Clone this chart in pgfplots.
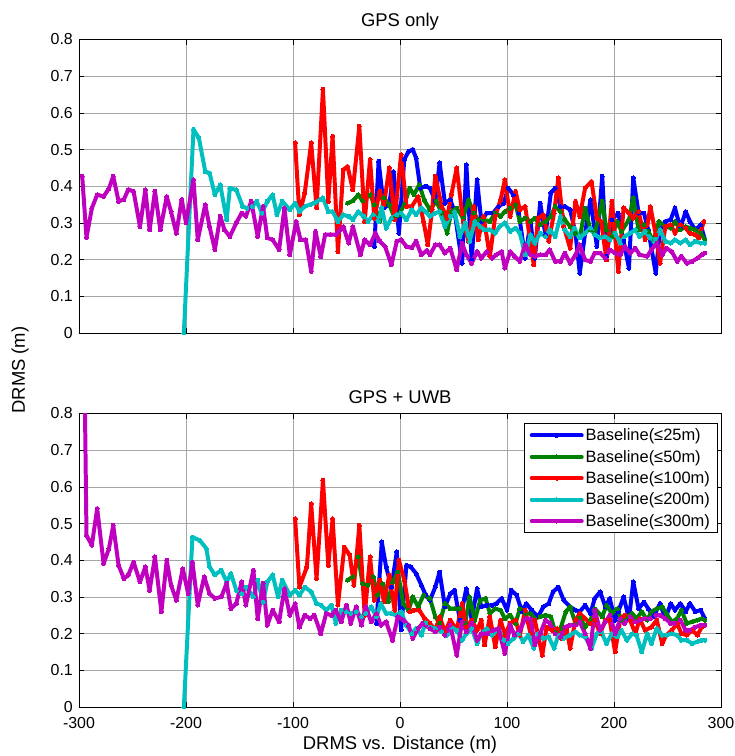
\documentclass[border=0pt]{standalone}
\usepackage{pgfplots}
\pgfplotsset{compat=1.18}
\usepackage{fontspec}
\setmainfont{Liberation Sans}
\definecolor{mblue}{rgb}{0,0,1}
\definecolor{mgreen}{rgb}{0,0.5,0}
\definecolor{mred}{rgb}{1,0,0}
\definecolor{mcyan}{rgb}{0,0.75,0.75}
\definecolor{mmag}{rgb}{0.75,0,0.75}
\pgfplotsset{
  mlab/.style={
    scale only axis, width=642bp, height=293.5bp,
    xmin=-300, xmax=300, ymin=0, ymax=0.8,
    xtick={-300,-200,-100,0,100,200,300},
    ytick={0,0.1,0.2,0.3,0.4,0.5,0.6,0.7,0.8},
    grid=major, major grid style={gray!70, line width=0.5pt},
    tick align=inside, major tick length=5bp,
    tick style={black, line width=0.6pt},
    axis line style={black, line width=0.8pt},
    tick label style={font=\fontsize{16}{19}\selectfont, inner sep=1bp},
    xticklabel style={yshift=-9.5bp},
    yticklabel style={xshift=-5bp},
    /pgf/number format/assume math mode=true,
    title style={font=\fontsize{18.5}{22}\selectfont},
    label style={font=\fontsize{18.5}{22}\selectfont},
    xlabel style={yshift=-3bp},
    anchor=south west,
  },
  ser/.style={color=#1, line width=4pt, line join=round, line cap=round, mark=*, mark size=2pt, mark options={solid, line width=0pt, fill=#1}},
}
\begin{document}
\begin{tikzpicture}
\useasboundingbox (-79bp,-423bp) rectangle (656bp,333bp);
\begin{axis}[mlab, at={(0,0)}, title={GPS only}, xticklabels={}]
\addplot[ser=mblue] coordinates {(-24,0.236) (-20,0.468) (-15,0.341) (-10,0.35) (-6,0.44) (-1,0.272) (4,0.473) (8,0.495) (12,0.5) (15,0.477) (19,0.395) (24,0.4) (28,0.395) (33,0.359) (37,0.464) (42,0.354) (47,0.363) (51,0.331) (58,0.19) (62,0.459) (67,0.199) (72,0.418) (76,0.304) (81,0.327) (87,0.327) (92,0.345) (97,0.354) (101,0.395) (106,0.377) (111,0.327) (117,0.204) (122,0.304) (126,0.204) (131,0.354) (136,0.268) (141,0.382) (145,0.395) (150,0.345) (154,0.345) (159,0.336) (164,0.272) (168,0.163) (173,0.272) (178,0.363) (184,0.236) (189,0.427) (193,0.209) (198,0.309) (204,0.327) (209,0.25) (214,0.177) (218,0.423) (223,0.327) (228,0.327) (232,0.281) (239,0.163) (243,0.281) (248,0.304) (253,0.309) (257,0.341) (262,0.286) (267,0.331) (271,0.304) (276,0.281) (281,0.295) (285,0.254)};
\addplot[ser=mgreen] coordinates {(-49,0.354) (-44,0.36) (-39,0.377) (-35,0.36) (-28,0.377) (-24,0.35) (-19,0.304) (-15,0.368) (-10,0.35) (-5,0.313) (-1,0.322) (4,0.35) (9,0.395) (13,0.377) (18,0.404) (23,0.36) (28,0.336) (34,0.359) (39,0.327) (44,0.272) (48,0.331) (53,0.34) (59,0.313) (64,0.363) (69,0.327) (73,0.309) (78,0.309) (84,0.304) (89,0.327) (94,0.318) (98,0.331) (103,0.34) (108,0.35) (112,0.304) (117,0.313) (122,0.304) (126,0.313) (131,0.295) (136,0.304) (141,0.318) (145,0.345) (150,0.331) (154,0.309) (159,0.29) (164,0.272) (168,0.259) (173,0.34) (178,0.281) (182,0.272) (189,0.359) (193,0.281) (198,0.263) (203,0.304) (207,0.277) (214,0.309) (218,0.368) (223,0.281) (228,0.295) (232,0.277) (237,0.25) (242,0.304) (248,0.29) (253,0.286) (257,0.304) (262,0.281) (267,0.29) (271,0.286) (276,0.281) (281,0.272) (285,0.254)};
\addplot[ser=mred] coordinates {(-98,0.518) (-94,0.322) (-89,0.382) (-83,0.518) (-78,0.341) (-72,0.664) (-67,0.359) (-63,0.536) (-58,0.222) (-53,0.445) (-49,0.454) (-44,0.39) (-38,0.564) (-33,0.304) (-28,0.473) (-24,0.313) (-19,0.386) (-15,0.35) (-10,0.45) (-5,0.309) (1,0.486) (6,0.345) (11,0.345) (17,0.372) (22,0.304) (26,0.24) (30,0.336) (33,0.427) (39,0.345) (44,0.313) (48,0.377) (53,0.45) (59,0.304) (64,0.25) (69,0.345) (73,0.254) (78,0.318) (84,0.209) (89,0.318) (94,0.363) (98,0.418) (103,0.318) (108,0.386) (112,0.336) (117,0.345) (125,0.186) (129,0.313) (134,0.322) (139,0.25) (144,0.327) (148,0.423) (153,0.29) (159,0.231) (164,0.359) (168,0.318) (173,0.395) (179,0.413) (184,0.313) (188,0.304) (193,0.199) (198,0.359) (204,0.168) (209,0.341) (214,0.327) (218,0.313) (223,0.331) (229,0.254) (234,0.345) (239,0.268) (243,0.19) (248,0.29) (253,0.295) (257,0.272) (262,0.295) (267,0.286) (271,0.272) (276,0.268) (279,0.259) (284,0.304)};
\addplot[ser=mcyan] coordinates {(-202,0) (-193,0.555) (-188,0.532) (-182,0.44) (-178,0.436) (-173,0.377) (-168,0.404) (-162,0.309) (-159,0.395) (-153,0.39) (-147,0.345) (-143,0.34) (-138,0.345) (-134,0.359) (-129,0.327) (-124,0.359) (-119,0.377) (-115,0.322) (-110,0.359) (-103,0.336) (-98,0.354) (-94,0.331) (-89,0.345) (-84,0.35) (-80,0.354) (-75,0.363) (-72,0.368) (-67,0.331) (-63,0.331) (-58,0.304) (-53,0.322) (-48,0.318) (-44,0.309) (-39,0.331) (-34,0.318) (-30,0.304) (-25,0.322) (-20,0.304) (-17,0.341) (-13,0.286) (-8,0.313) (-3,0.322) (1,0.327) (6,0.309) (11,0.336) (15,0.322) (20,0.341) (24,0.33) (28,0.318) (33,0.327) (37,0.331) (42,0.29) (47,0.318) (51,0.331) (56,0.263) (61,0.3) (65,0.25) (70,0.304) (75,0.29) (79,0.281) (84,0.281) (89,0.272) (93,0.29) (98,0.3) (103,0.277) (108,0.286) (112,0.272) (117,0.213) (122,0.268) (126,0.245) (131,0.272) (136,0.263) (140,0.281) (145,0.263) (150,0.318) (154,0.281) (159,0.263) (163,0.286) (168,0.259) (173,0.272) (178,0.286) (182,0.268) (187,0.259) (192,0.263) (196,0.254) (201,0.272) (206,0.245) (210,0.263) (215,0.272) (220,0.281) (224,0.263) (229,0.277) (234,0.259) (238,0.25) (243,0.281) (248,0.25) (253,0.245) (257,0.254) (262,0.245) (267,0.254) (271,0.24) (276,0.25) (281,0.245) (285,0.245)};
\addplot[ser=mmag] coordinates {(-297,0.427) (-293,0.26) (-288,0.34) (-283,0.377) (-277,0.372) (-272,0.394) (-268,0.427) (-263,0.359) (-258,0.364) (-254,0.391) (-249,0.386) (-243,0.29) (-238,0.39) (-234,0.281) (-229,0.386) (-224,0.281) (-218,0.372) (-214,0.331) (-209,0.272) (-204,0.364) (-200,0.3) (-193,0.418) (-189,0.254) (-182,0.35) (-178,0.29) (-173,0.227) (-168,0.318) (-164,0.281) (-159,0.263) (-153,0.3) (-148,0.327) (-144,0.318) (-139,0.359) (-133,0.263) (-128,0.345) (-124,0.259) (-119,0.254) (-113,0.227) (-108,0.34) (-103,0.213) (-97,0.304) (-93,0.254) (-88,0.254) (-83,0.168) (-79,0.277) (-74,0.208) (-70,0.268) (-65,0.268) (-60,0.268) (-57,0.277) (-53,0.29) (-48,0.245) (-44,0.29) (-37,0.213) (-33,0.254) (-28,0.24) (-23,0.272) (-19,0.25) (-14,0.236) (-8,0.186) (-3,0.25) (1,0.254) (6,0.236) (11,0.232) (15,0.25) (20,0.213) (25,0.225) (28,0.213) (33,0.24) (37,0.24) (42,0.218) (47,0.231) (53,0.172) (58,0.245) (62,0.213) (67,0.19) (72,0.222) (76,0.204) (81,0.222) (86,0.204) (90,0.213) (95,0.222) (98,0.177) (103,0.222) (107,0.209) (112,0.195) (117,0.24) (122,0.213) (126,0.209) (131,0.213) (136,0.213) (140,0.227) (145,0.195) (150,0.195) (154,0.218) (159,0.19) (164,0.213) (168,0.24) (173,0.199) (178,0.195) (182,0.218) (187,0.218) (192,0.204) (196,0.227) (201,0.218) (206,0.213) (210,0.236) (215,0.218) (220,0.231) (224,0.213) (231,0.209) (235,0.227) (240,0.245) (245,0.213) (249,0.231) (254,0.222) (259,0.195) (263,0.209) (268,0.19) (273,0.195) (278,0.204) (282,0.213) (285,0.218)};
\end{axis}
\begin{axis}[mlab, at={(0,-374bp)}, title={GPS + UWB}, xlabel={DRMS vs. Distance (m)},
  legend cell align=left,
  legend style={at={(0.994,0.966)}, anchor=north east, draw=black, line width=0.6pt, fill=white,
    font=\fontsize{16.5}{19}\selectfont, row sep=4bp, inner xsep=5bp, inner ysep=3bp},
  legend image code/.code={\draw[#1, mark repeat=2, mark phase=2] plot coordinates {(0bp,0bp) (25bp,0bp) (50bp,0bp)};},
]
\addplot[ser=mblue] coordinates {(-22,0.228) (-17,0.45) (-13,0.382) (-8,0.327) (-3,0.423) (1,0.21) (6,0.386) (10,0.382) (15,0.364) (20,0.332) (24,0.305) (28,0.291) (33,0.327) (37,0.368) (42,0.273) (47,0.309) (51,0.318) (56,0.237) (62,0.323) (67,0.237) (72,0.323) (76,0.273) (81,0.277) (86,0.277) (90,0.282) (95,0.296) (100,0.264) (104,0.318) (109,0.305) (114,0.26) (118,0.282) (123,0.264) (129,0.246) (134,0.273) (139,0.282) (143,0.314) (148,0.327) (153,0.291) (159,0.273) (164,0.264) (168,0.26) (173,0.277) (178,0.255) (182,0.296) (187,0.314) (192,0.273) (196,0.296) (201,0.237) (204,0.26) (209,0.3) (214,0.241) (218,0.341) (223,0.268) (228,0.286) (232,0.268) (237,0.246) (243,0.282) (248,0.241) (253,0.282) (257,0.264) (262,0.282) (267,0.26) (271,0.282) (276,0.26) (281,0.264) (285,0.241)};
\addlegendentry{Baseline(≤25m)}
\addplot[ser=mgreen] coordinates {(-49,0.346) (-44,0.355) (-39,0.409) (-35,0.336) (-30,0.332) (-25,0.355) (-21,0.305) (-16,0.336) (-11,0.287) (-7,0.341) (-2,0.368) (3,0.282) (8,0.264) (12,0.3) (17,0.273) (22,0.305) (28,0.296) (33,0.246) (37,0.228) (42,0.282) (47,0.268) (51,0.268) (56,0.268) (61,0.228) (65,0.3) (70,0.237) (75,0.291) (80,0.296) (84,0.255) (89,0.268) (94,0.264) (98,0.241) (103,0.25) (108,0.228) (112,0.268) (117,0.255) (122,0.255) (126,0.241) (131,0.246) (136,0.25) (141,0.246) (145,0.205) (150,0.214) (155,0.26) (159,0.273) (164,0.228) (168,0.246) (173,0.218) (178,0.237) (182,0.268) (189,0.246) (193,0.277) (198,0.255) (203,0.268) (207,0.237) (212,0.246) (217,0.255) (221,0.241) (226,0.26) (231,0.237) (235,0.26) (240,0.268) (245,0.273) (249,0.255) (254,0.232) (259,0.241) (263,0.264) (268,0.228) (273,0.232) (278,0.237) (282,0.241) (285,0.237)};
\addlegendentry{Baseline(≤50m)}
\addplot[ser=mred] coordinates {(-98,0.513) (-94,0.327) (-87,0.382) (-83,0.554) (-78,0.35) (-72,0.618) (-67,0.386) (-63,0.513) (-58,0.278) (-52,0.436) (-47,0.414) (-43,0.332) (-38,0.495) (-33,0.25) (-28,0.409) (-24,0.291) (-19,0.346) (-15,0.287) (-10,0.359) (-5,0.264) (-1,0.4) (4,0.346) (9,0.259) (13,0.264) (18,0.264) (23,0.241) (28,0.228) (33,0.209) (37,0.246) (42,0.205) (47,0.237) (53,0.209) (58,0.282) (62,0.218) (67,0.237) (72,0.209) (76,0.237) (79,0.169) (84,0.246) (89,0.164) (94,0.237) (98,0.196) (103,0.228) (108,0.237) (112,0.196) (117,0.264) (122,0.2) (126,0.237) (133,0.141) (137,0.218) (142,0.209) (147,0.214) (151,0.187) (156,0.209) (159,0.16) (164,0.237) (168,0.255) (173,0.241) (178,0.228) (182,0.237) (187,0.2) (192,0.237) (196,0.237) (201,0.15) (206,0.241) (210,0.25) (215,0.237) (220,0.2) (224,0.241) (229,0.209) (235,0.218) (240,0.237) (245,0.173) (249,0.196) (254,0.209) (259,0.228) (263,0.2) (268,0.196) (273,0.209) (278,0.196) (282,0.218) (285,0.223)};
\addlegendentry{Baseline(≤100m)}
\addplot[ser=mcyan] coordinates {(-202,0) (-194,0.463) (-187,0.454) (-181,0.432) (-178,0.382) (-173,0.36) (-167,0.373) (-162,0.341) (-158,0.364) (-153,0.318) (-148,0.309) (-144,0.327) (-137,0.3) (-133,0.346) (-128,0.286) (-124,0.341) (-119,0.36) (-114,0.3) (-110,0.346) (-103,0.305) (-98,0.318) (-94,0.305) (-89,0.327) (-83,0.314) (-78,0.282) (-74,0.278) (-69,0.264) (-64,0.278) (-60,0.228) (-55,0.264) (-50,0.259) (-46,0.255) (-41,0.259) (-36,0.246) (-32,0.255) (-27,0.273) (-22,0.246) (-18,0.282) (-13,0.255) (-8,0.255) (-4,0.25) (1,0.259) (6,0.223) (11,0.2) (15,0.214) (20,0.196) (24,0.23) (28,0.218) (33,0.214) (39,0.205) (44,0.196) (48,0.218) (53,0.209) (58,0.182) (62,0.2) (67,0.214) (72,0.173) (76,0.2) (81,0.214) (86,0.196) (92,0.214) (97,0.182) (101,0.173) (106,0.187) (111,0.2) (115,0.178) (120,0.196) (125,0.16) (129,0.2) (134,0.187) (139,0.191) (144,0.16) (148,0.196) (153,0.187) (159,0.196) (164,0.205) (168,0.196) (173,0.191) (179,0.16) (184,0.2) (188,0.205) (193,0.173) (198,0.2) (203,0.191) (207,0.209) (212,0.182) (217,0.2) (221,0.196) (226,0.15) (231,0.2) (235,0.173) (240,0.214) (245,0.196) (249,0.196) (254,0.2) (259,0.196) (263,0.182) (268,0.182) (273,0.173) (278,0.178) (282,0.182) (285,0.182)};
\addlegendentry{Baseline(≤200m)}
\addplot[ser=mmag] coordinates {(-295,0.95) (-293,0.468) (-288,0.441) (-283,0.541) (-277,0.391) (-272,0.432) (-268,0.495) (-263,0.386) (-258,0.35) (-254,0.359) (-249,0.395) (-243,0.341) (-238,0.382) (-234,0.318) (-229,0.409) (-223,0.259) (-218,0.4) (-214,0.332) (-209,0.291) (-203,0.377) (-198,0.309) (-194,0.395) (-189,0.278) (-183,0.355) (-178,0.309) (-173,0.296) (-167,0.3) (-162,0.337) (-158,0.268) (-153,0.282) (-148,0.341) (-144,0.278) (-137,0.373) (-133,0.241) (-128,0.337) (-124,0.223) (-119,0.264) (-113,0.232) (-108,0.323) (-103,0.25) (-98,0.282) (-94,0.218) (-89,0.25) (-84,0.241) (-80,0.25) (-74,0.2) (-69,0.255) (-64,0.25) (-60,0.264) (-55,0.232) (-50,0.278) (-46,0.228) (-41,0.273) (-36,0.223) (-32,0.273) (-27,0.232) (-22,0.255) (-18,0.223) (-13,0.232) (-7,0.182) (-2,0.246) (3,0.237) (8,0.223) (12,0.187) (17,0.214) (21,0.228) (28,0.214) (33,0.205) (37,0.218) (42,0.196) (47,0.223) (53,0.141) (58,0.232) (62,0.205) (67,0.228) (72,0.182) (76,0.2) (82,0.2) (87,0.209) (92,0.214) (98,0.146) (103,0.223) (107,0.196) (112,0.209) (117,0.241) (122,0.241) (126,0.169) (131,0.2) (136,0.237) (140,0.228) (145,0.2) (150,0.191) (154,0.218) (159,0.223) (164,0.223) (168,0.232) (173,0.2) (178,0.16) (182,0.264) (187,0.209) (192,0.232) (196,0.25) (201,0.2) (206,0.241) (210,0.228) (215,0.246) (220,0.232) (224,0.237) (229,0.241) (234,0.241) (239,0.25) (243,0.25) (248,0.241) (253,0.228) (257,0.228) (262,0.237) (267,0.209) (271,0.209) (276,0.218) (281,0.223) (285,0.223)};
\addlegendentry{Baseline(≤300m)}
\end{axis}
\node[rotate=90, font=\fontsize{18.5}{22}\selectfont] at (-59bp,-37bp) {DRMS (m)};
\end{tikzpicture}
\end{document}
